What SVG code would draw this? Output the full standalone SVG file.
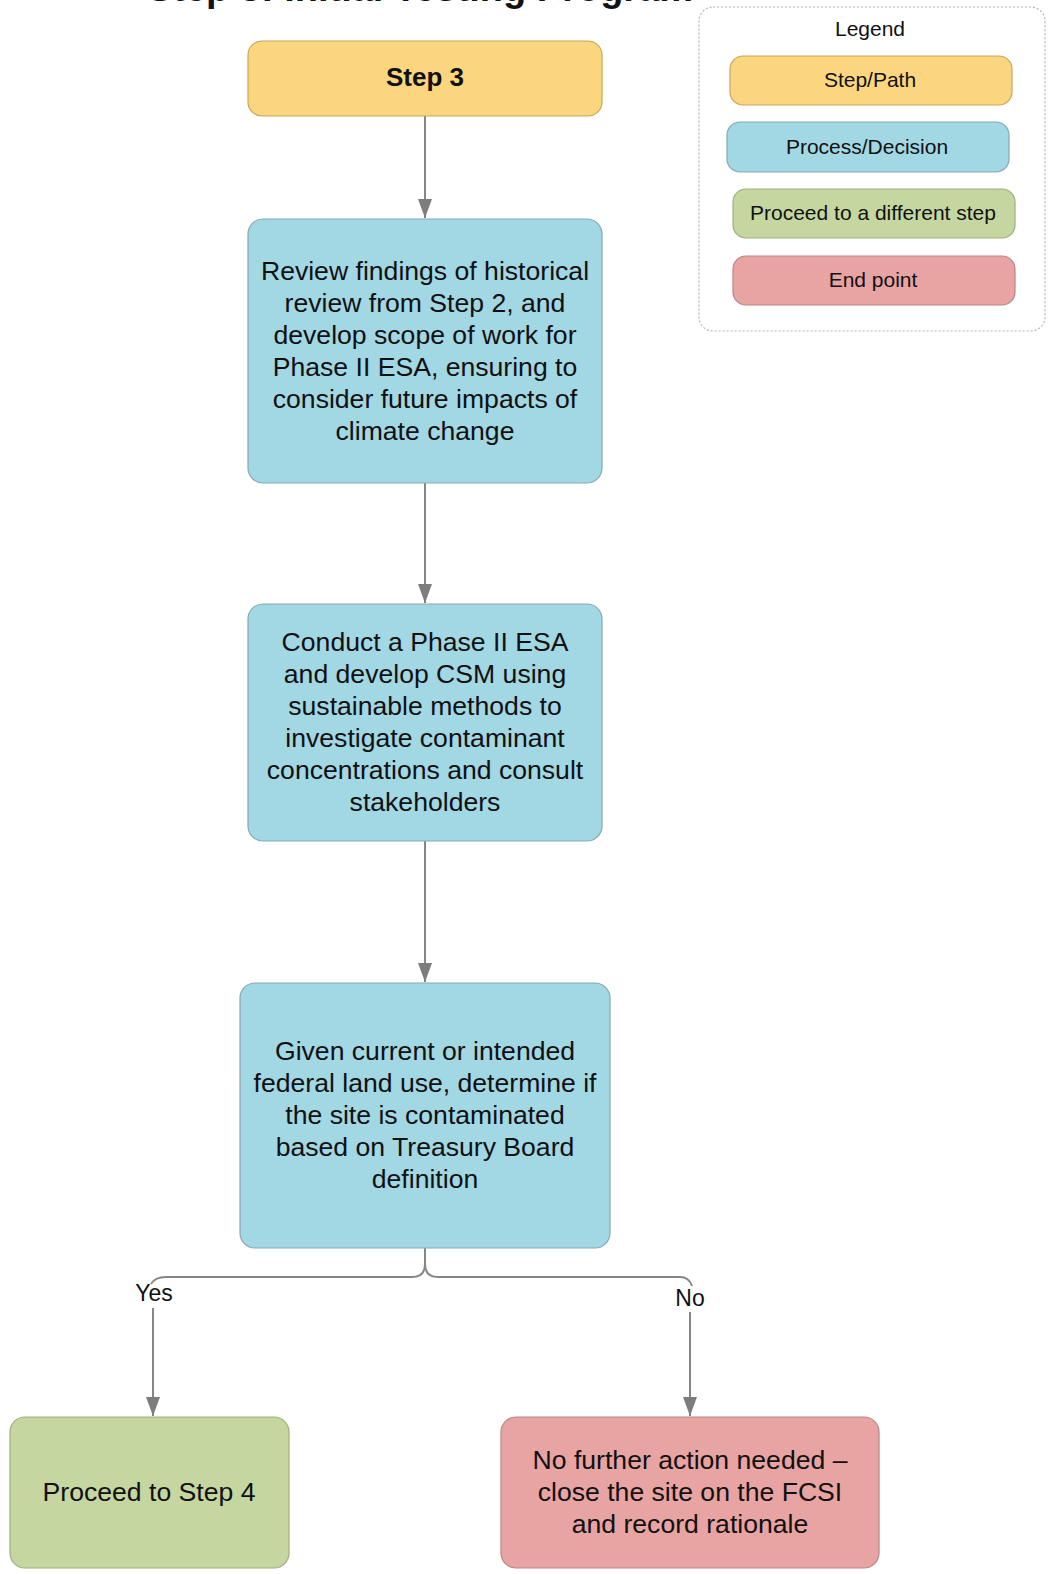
<svg xmlns="http://www.w3.org/2000/svg" width="1050" height="1574" viewBox="0 0 1050 1574">
<style>
text{font-family:"Liberation Sans",Arial,sans-serif;fill:#111;text-anchor:middle}
.t{font-size:26.6px}
.lg{font-size:21px}
.yel{fill:#FCD67E;stroke:#C9A657;stroke-width:1.2}
.blu{fill:#A2D7E4;stroke:#86A9B1;stroke-width:1.2}
.grn{fill:#C5D6A0;stroke:#9DAF7E;stroke-width:1.2}
.red{fill:#E8A3A3;stroke:#B98585;stroke-width:1.2}
.c{fill:none;stroke:#868686;stroke-width:2}
</style>
<defs>
<marker id="ah" markerUnits="userSpaceOnUse" markerWidth="20" markerHeight="14" refX="19" refY="7" orient="auto" viewBox="0 0 20 14">
<path d="M0,0 L19,7 L0,14 z" fill="#7d7d7d"/>
</marker>
</defs>
<rect width="1050" height="1574" fill="#ffffff"/>
<text x="420" y="1" style="font-size:38px;font-weight:bold">Step 3: Initial Testing Program</text>

<g id="legend">
<rect x="699" y="7" width="346" height="324" rx="14" fill="none" stroke="#b4b4b4" stroke-width="1.2" stroke-dasharray="2,2"/>
<text class="lg" x="870" y="36">Legend</text>
<rect class="yel" x="730" y="56" width="282" height="49" rx="13"/>
<text class="lg" x="870" y="87">Step/Path</text>
<rect class="blu" x="727" y="122" width="282" height="50" rx="13"/>
<text class="lg" x="867" y="154">Process/Decision</text>
<rect class="grn" x="733" y="189" width="282" height="49" rx="13"/>
<text class="lg" x="873" y="220">Proceed to a different step</text>
<rect class="red" x="733" y="256" width="282" height="49" rx="13"/>
<text class="lg" x="873" y="287">End point</text>
</g>

<g id="connectors">
<path class="c" d="M425,116 V218" marker-end="url(#ah)"/>
<path class="c" d="M425,483 V603" marker-end="url(#ah)"/>
<path class="c" d="M425,841 V982" marker-end="url(#ah)"/>
<path class="c" d="M425,1248 V1264 Q425,1277 412,1277 H166 Q155,1277 151,1284"/>
<path class="c" d="M425,1264 Q425,1277 438,1277 H680 Q689,1277 692,1286"/>
<path class="c" d="M153,1308 V1416" marker-end="url(#ah)"/>
<path class="c" d="M690,1312 V1416" marker-end="url(#ah)"/>
<text x="154" y="1301" style="font-size:23px">Yes</text>
<text x="690" y="1306" style="font-size:23px">No</text>
</g>

<g id="step3">
<rect class="yel" x="248" y="41" width="354" height="75" rx="14"/>
<text x="425" y="86" style="font-size:26px;font-weight:bold">Step 3</text>
</g>

<g id="review">
<rect class="blu" x="248" y="219" width="354" height="264" rx="15"/>
<text class="t" x="425" y="280">Review findings of historical</text>
<text class="t" x="425" y="312">review from Step 2, and</text>
<text class="t" x="425" y="344">develop scope of work for</text>
<text class="t" x="425" y="376">Phase II ESA, ensuring to</text>
<text class="t" x="425" y="408">consider future impacts of</text>
<text class="t" x="425" y="440">climate change</text>
</g>

<g id="conduct">
<rect class="blu" x="248" y="604" width="354" height="237" rx="15"/>
<text class="t" x="425" y="651">Conduct a Phase II ESA</text>
<text class="t" x="425" y="683">and develop CSM using</text>
<text class="t" x="425" y="715">sustainable methods to</text>
<text class="t" x="425" y="747">investigate contaminant</text>
<text class="t" x="425" y="779">concentrations and consult</text>
<text class="t" x="425" y="811">stakeholders</text>
</g>

<g id="decision">
<rect class="blu" x="240" y="983" width="370" height="265" rx="15"/>
<text class="t" x="425" y="1060">Given current or intended</text>
<text class="t" x="425" y="1092">federal land use, determine if</text>
<text class="t" x="425" y="1124">the site is contaminated</text>
<text class="t" x="425" y="1156">based on Treasury Board</text>
<text class="t" x="425" y="1188">definition</text>
</g>

<g id="step4">
<rect class="grn" x="10" y="1417" width="279" height="151" rx="15"/>
<text class="t" x="149" y="1501">Proceed to Step 4</text>
</g>

<g id="endpoint">
<rect class="red" x="501" y="1417" width="378" height="151" rx="15"/>
<text class="t" x="690" y="1469">No further action needed –</text>
<text class="t" x="690" y="1501">close the site on the FCSI</text>
<text class="t" x="690" y="1533">and record rationale</text>
</g>
</svg>
